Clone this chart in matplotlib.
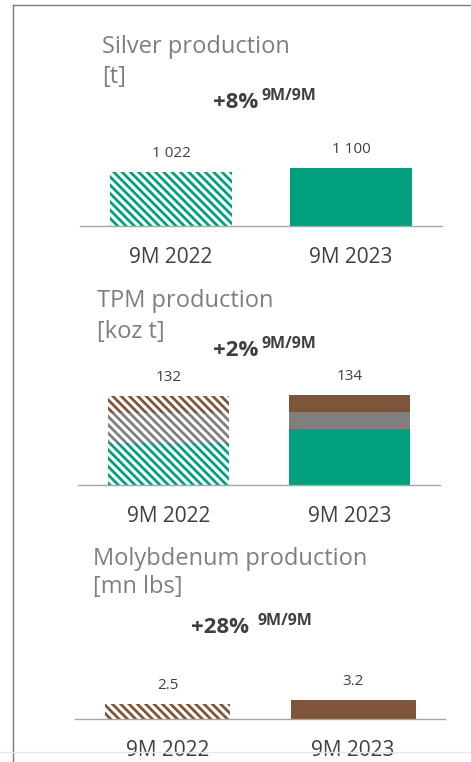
import matplotlib.pyplot as plt
from matplotlib.lines import Line2D

# dane
periods = ["9M 2022", "9M 2023"]

silver = [1022, 1100]

tpm_gold = [62, 84]
tpm_platinum = [45, 25]
tpm_palladium = [25, 25]
tpm_total = [132, 134]

molybdenum = [2.5, 3.2]
molybdenum_labels = ["2.5", "3.2"]

GREEN = "#00a07e"
GRAY = "#7f7f7f"
BROWN = "#7f5539"
TXT = "#3f3f3f"

W, H = 471, 762
plt.rcParams["font.family"] = ["Open Sans", "DejaVu Sans"]
plt.rcParams["hatch.linewidth"] = 2.0

fig = plt.figure(figsize=(W / 100, H / 100), dpi=100)


def fx(x):
    return x / W


def fy(y):
    return 1 - y / H


def panel(left, right, base, centers, px_per_unit, bar_w):
    # osie w pikselach obrazu
    top = base - 110
    ax = fig.add_axes([fx(left), fy(base), fx(right - left), (base - top) / H])
    step = centers[1] - centers[0]
    ax.set_xlim((left - centers[0]) / step, (right - centers[0]) / step)
    ax.set_ylim(0, (base - top) / px_per_unit)
    for s in ["top", "left", "right"]:
        ax.spines[s].set_visible(False)
    ax.spines["bottom"].set_color("#a6a6a6")
    ax.spines["bottom"].set_linewidth(1.0)
    ax.set_yticks([])
    ax.set_xticks(range(len(periods)))
    ax.set_xticklabels(periods, fontsize=15, color=TXT)
    ax.tick_params(axis="x", length=0, pad=15)
    ax.patch.set_alpha(0)
    return ax, bar_w / step


def hatched(ax, x, h, b, color, w):
    ax.bar(x, h, w, bottom=b, facecolor="white", edgecolor=color,
           hatch="\\\\\\\\", linewidth=0)


def value_labels(ax, tops, labels):
    for i, (t, lab) in enumerate(zip(tops, labels)):
        ax.annotate(lab, (i, t), xytext=(0, 15), textcoords="offset pixels",
                    ha="center", va="baseline", fontsize=11, color=TXT)


def titles(x, y1, line1, line2, y2, pct, xp, yp, xs, ys):
    fig.text(fx(x), fy(y1), line1, fontsize=17, color=GRAY, va="baseline")
    fig.text(fx(x), fy(y2), line2, fontsize=17, color=GRAY, va="baseline")
    fig.text(fx(xp), fy(yp), pct, fontsize=16, color=TXT, fontweight="bold",
             va="baseline")
    fig.text(fx(xs), fy(ys), "9M/9M", fontsize=11.5, color=TXT,
             fontweight="bold", va="baseline")


# Silver
ax1, w1 = panel(80, 442, 226, (171, 351), 0.0525, 122)
hatched(ax1, 0, silver[0], 0, GREEN, w1)
ax1.bar(1, silver[1], w1, color=GREEN, linewidth=0)
value_labels(ax1, silver, ["1 022", "1 100"])
titles(102, 53, "Silver production", "[t]", 83, "+8%", 213, 108, 262, 100)

# TPM
ax2, w2 = panel(78, 440, 485, (168.5, 349.5), 0.672, 121)
hatched(ax2, 0, tpm_gold[0], 0, GREEN, w2)
hatched(ax2, 0, tpm_platinum[0], tpm_gold[0], GRAY, w2)
hatched(ax2, 0, tpm_palladium[0], tpm_gold[0] + tpm_platinum[0], BROWN, w2)
ax2.bar(1, tpm_gold[1], w2, color=GREEN, linewidth=0)
ax2.bar(1, tpm_platinum[1], w2, bottom=tpm_gold[1], color=GRAY, linewidth=0)
ax2.bar(1, tpm_palladium[1], w2, bottom=tpm_gold[1] + tpm_platinum[1],
        color=BROWN, linewidth=0)
value_labels(ax2, tpm_total, [str(v) for v in tpm_total])
titles(97, 307, "TPM production", "[koz t]", 338, "+2%", 213, 356, 262, 348)

# Molybdenum
ax3, w3 = panel(75, 445, 719, (167.5, 353), 6.0, 125)
hatched(ax3, 0, molybdenum[0], 0, BROWN, w3)
ax3.bar(1, molybdenum[1], w3, color=BROWN, linewidth=0)
value_labels(ax3, molybdenum, molybdenum_labels)
titles(93, 565, "Molybdenum production", "[mn lbs]", 593, "+28%", 191, 633,
       258, 625)

# ramka
fig.add_artist(Line2D([fx(13), fx(13)], [fy(5), 0], color="#7a7a7a", lw=1))
fig.add_artist(Line2D([fx(13), 1], [fy(5), fy(5)], color="#7a7a7a", lw=1))
fig.add_artist(Line2D([0, 1], [fy(752), fy(752)], color="#e6e6e6", lw=1))

plt.savefig("out.png", dpi=100)
